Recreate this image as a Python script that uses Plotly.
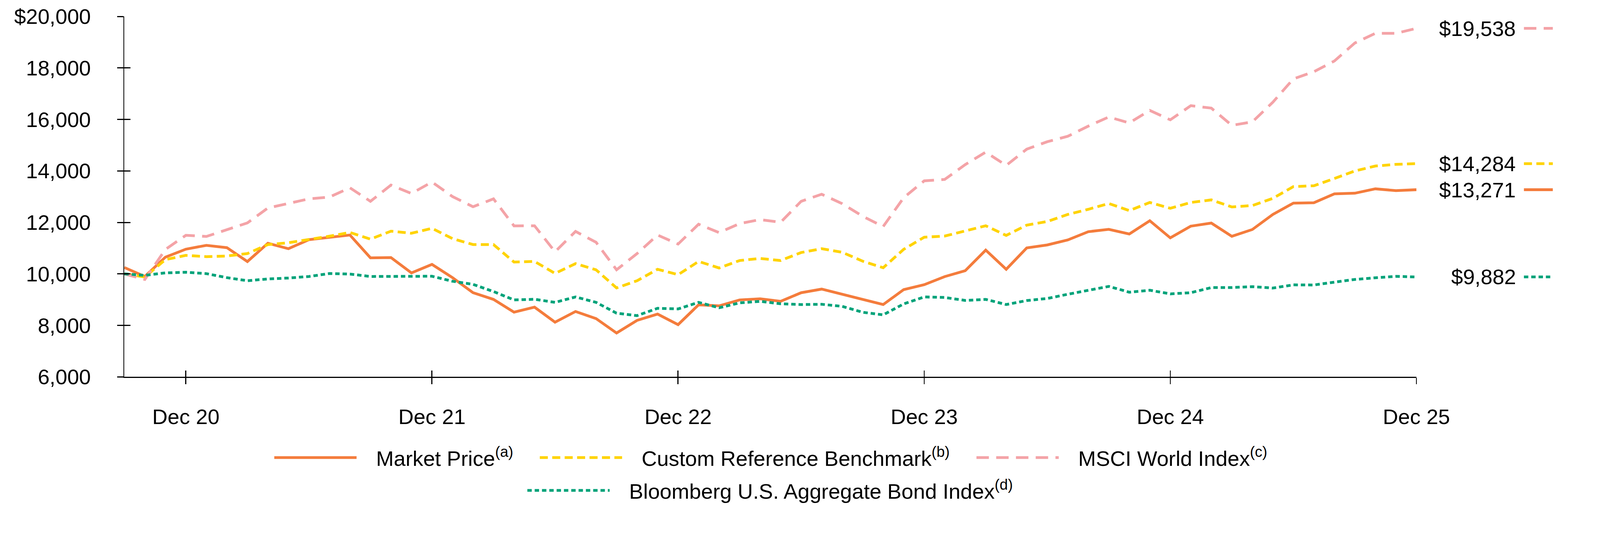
import plotly.graph_objects as go
import pandas as pd

# ---------------- data ----------------
months = pd.date_range("2020-09-30", periods=64, freq="ME").strftime("%b %y").tolist()

market_price = [10250, 9900, 10650, 10960, 11110, 11020, 10480, 11190, 10980, 11330, 11420, 11510,
                10625, 10635, 10040, 10370, 9855, 9270, 9010, 8515, 8710, 8125, 8540, 8265,
                7705, 8195, 8440, 8030, 8800, 8760, 8990, 9035, 8935, 9270, 9410, 9210,
                9010, 8810, 9390, 9580, 9895, 10125, 10925, 10180, 11010, 11125, 11320, 11640,
                11730, 11550, 12065, 11400, 11855, 11975, 11460, 11725, 12310, 12750, 12765, 13110,
                13135, 13305, 13235, 13271]

custom_benchmark = [10000, 9880, 10555, 10720, 10670, 10695, 10790, 11140, 11210, 11325, 11465, 11610,
                    11350, 11660, 11580, 11770, 11370, 11140, 11140, 10460, 10485, 10020, 10400, 10160,
                    9455, 9735, 10180, 9970, 10485, 10230, 10520, 10600, 10520, 10830, 10980, 10840,
                    10495, 10240, 10955, 11425, 11470, 11670, 11870, 11495, 11895, 12035, 12310, 12510,
                    12735, 12460, 12775, 12550, 12775, 12875, 12600, 12655, 12935, 13390, 13425, 13705,
                    14000, 14190, 14255, 14284]

msci_world = [10000, 9785, 10950, 11500, 11455, 11720, 11980, 12560, 12750, 12915, 12985, 13345,
              12820, 13450, 13125, 13570, 13005, 12610, 12915, 11865, 11870, 10860, 11650, 11230,
              10160, 10790, 11510, 11160, 11930, 11605, 11955, 12110, 12005, 12820, 13095, 12730,
              12240, 11840, 12960, 13615, 13670, 14245, 14730, 14215, 14845, 15135, 15345, 15740,
              16095, 15865, 16350, 15985, 16535, 16440, 15770, 15905, 16670, 17575, 17855, 18270,
              18970, 19345, 19345, 19538]

bloomberg_agg = [10000, 9945, 10040, 10065, 10010, 9855, 9735, 9805, 9840, 9900, 10015, 9995,
                 9900, 9900, 9925, 9910, 9715, 9595, 9315, 8990, 9015, 8895, 9105, 8895,
                 8475, 8380, 8665, 8640, 8895, 8685, 8875, 8935, 8840, 8810, 8820, 8740,
                 8510, 8410, 8835, 9105, 9085, 8970, 9010, 8810, 8965, 9045, 9210, 9365,
                 9515, 9290, 9365, 9225, 9270, 9470, 9470, 9505, 9450, 9575, 9570, 9680,
                 9785, 9850, 9905, 9882]

y_tickvals = [6000, 8000, 10000, 12000, 14000, 16000, 18000, 20000]
y_ticktext = ["6,000", "8,000", "10,000", "12,000", "14,000", "16,000", "18,000", "$20,000"]

series_names = ["Market Price<sup>(a)</sup>",
                "Custom Reference Benchmark<sup>(b)</sup>",
                "MSCI World Index<sup>(c)</sup>",
                "Bloomberg U.S. Aggregate Bond Index<sup>(d)</sup>"]
series_values = [market_price, custom_benchmark, msci_world, bloomberg_agg]
series_colors = ["#F47C3C", "#FFD300", "#F4A3A7", "#00A37A"]
series_dash = ["solid", "22px,12px", "34px,20px", "12px,8px"]

# ---------------- layout geometry ----------------
W, H = 4375, 1397
ML, MR, MT, MB = 340, 502, 41, 357
PW = W - ML - MR
PH = H - MT - MB
FONT = "Liberation Sans, Arial, Helvetica, sans-serif"
FS = 58
LW = 7.5


def fx(px):
    return (px - ML) / PW


def fy(py):
    return (H - MB - py) / PH


x_idx = list(range(len(months)))
dec_ticks = [i for i, m in enumerate(months) if m.startswith("Dec")]
dec_text = [months[i] for i in dec_ticks]

# legend placement (line start px, row centre px)
legend_pos = [(750, 1264), (1476, 1264), (2670, 1264), (1442, 1355)]
legend_ids = ["legend", "legend2", "legend3", "legend4"]
# last series sits on the overlay axes (which also carry the inner half of the tick marks)
axes_of = [("x", "y"), ("x", "y"), ("x", "y"), ("x2", "y2")]

fig = go.Figure()
for name, vals, col, dsh, lid, (xa, ya) in zip(series_names, series_values, series_colors,
                                               series_dash, legend_ids, axes_of):
    fig.add_trace(go.Scatter(
        x=x_idx, y=vals, mode="lines", name="\u00a0\u00a0\u00a0" + name,
        customdata=months, hovertemplate="%{customdata}: $%{y:,.0f}<extra></extra>",
        line=dict(color=col, width=LW, dash=dsh),
        legend=lid, xaxis=xa, yaxis=ya,
    ))

shapes = []
annotations = []
for vals, col, dsh in zip(series_values, series_colors, series_dash):
    last = vals[-1]
    shapes.append(dict(type="line", xref="paper", yref="y",
                       x0=fx(4167), x1=fx(4246), y0=last, y1=last,
                       line=dict(color=col, width=LW, dash=dsh)))
    annotations.append(dict(xref="paper", yref="y", x=fx(4147), y=last,
                            text=f"${last:,.0f}", showarrow=False,
                            xanchor="right", yanchor="middle",
                            font=dict(family=FONT, size=FS, color="black")))

axis_common = dict(showgrid=False, zeroline=False, linecolor="black", linewidth=3,
                   tickcolor="black", tickwidth=3, ticklen=17)

layout = dict(
    width=W, height=H,
    margin=dict(l=ML, r=MR, t=MT, b=MB, pad=0),
    paper_bgcolor="white", plot_bgcolor="white",
    font=dict(family=FONT, size=FS, color="black"),
    showlegend=True,
    xaxis=dict(range=[0, len(months) - 1], tickmode="array", tickvals=dec_ticks, ticktext=dec_text,
               showline=True, ticks="outside", ticklabelstandoff=39,
               tickfont=dict(family=FONT, size=FS, color="black"), **axis_common),
    xaxis2=dict(range=[0, len(months) - 1], tickmode="array", tickvals=dec_ticks, overlaying="x",
                anchor="y2", side="bottom", showline=False, ticks="inside", showticklabels=False,
                **axis_common),
    yaxis=dict(range=[6000, 20000], tickmode="array", tickvals=y_tickvals, ticktext=y_ticktext,
               showline=True, ticks="outside", ticklabelstandoff=60,
               tickfont=dict(family=FONT, size=FS, color="black"), **axis_common),
    yaxis2=dict(range=[6000, 20000], tickmode="array", tickvals=y_tickvals, overlaying="y",
                anchor="x2", side="left", showline=False, ticks="inside", showticklabels=False,
                **axis_common),
    shapes=shapes,
    annotations=annotations,
    hovermode="closest",
)
for lid, (lx, ly) in zip(legend_ids, legend_pos):
    layout[lid] = dict(x=fx(lx - 5), y=fy(ly), xanchor="left", yanchor="middle",
                       orientation="h", itemwidth=225, bgcolor="rgba(0,0,0,0)", borderwidth=0,
                       font=dict(family=FONT, size=FS, color="black"))
fig.update_layout(**layout)

# fit the fixed-size figure into whatever CSS viewport the browser reports
fit_js = """
var gd = document.getElementById('{plot_id}');
document.documentElement.style.margin = '0';
document.body.style.margin = '0';
document.documentElement.style.overflow = 'hidden';
document.body.style.overflow = 'hidden';
var s = Math.min(window.innerWidth / %d, window.innerHeight / %d);
if (s > 0 && s < 1) { gd.style.zoom = s; }
""" % (W, H)

fig.write_html("out.html", post_script=fit_js, config={"displayModeBar": False})
